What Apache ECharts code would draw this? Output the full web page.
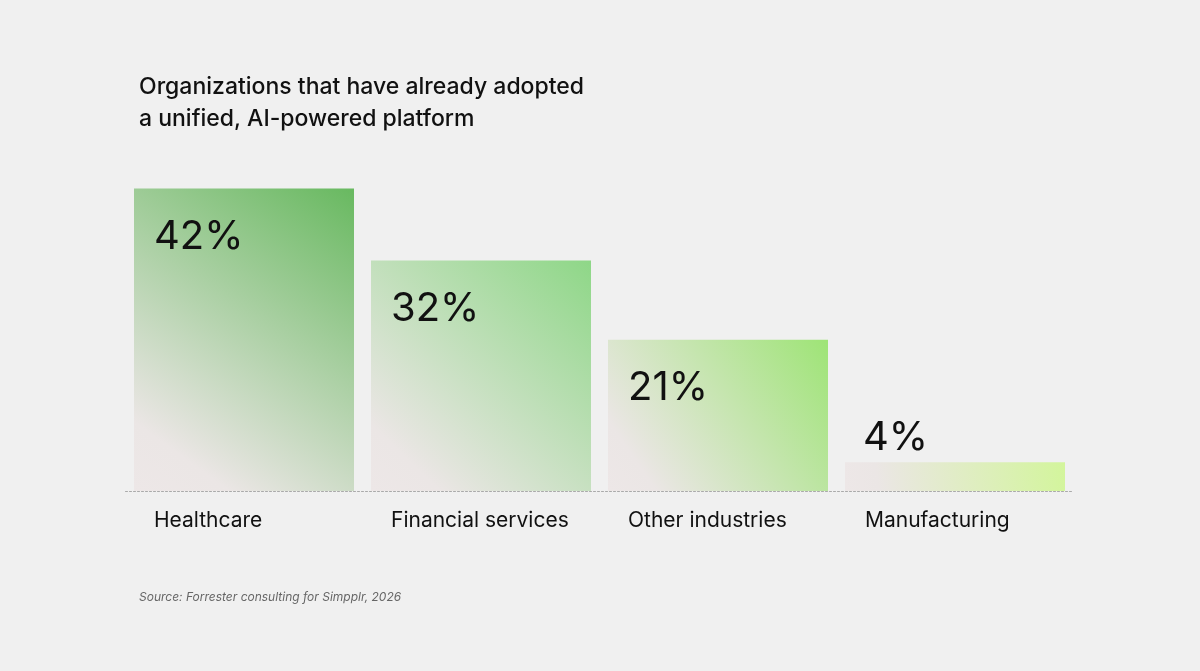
<!DOCTYPE html>
<html><head><meta charset="utf-8">
<script src="https://cdn.jsdelivr.net/npm/echarts@6/dist/echarts.min.js"></script>
<style>html,body{margin:0;padding:0;background:#f0f0f0}#c{width:1200px;height:671px}</style>
</head><body><div id="c"></div>
<script>
const categories = ['Healthcare','Financial services','Other industries','Manufacturing'];
const values = [42, 32, 21, 4];
const topColors = ['#68b960','#8ed787','#9ee476','#d3f59c'];
const chart = echarts.init(document.getElementById('c'));
const F = 'Inter, "Noto Sans", sans-serif';
chart.setOption({
  backgroundColor:'#f0f0f0',
  animation:false,
  title:[
    {text:'Organizations that have already adopted\na unified, AI-powered platform',left:134,top:66,
     textStyle:{fontFamily:F,fontSize:23,fontWeight:500,color:'#111',lineHeight:32}},
    {text:'Source: Forrester consulting for Simpplr, 2026',left:134,top:586,
     textStyle:{fontFamily:F,fontSize:12,fontStyle:'italic',fontWeight:'normal',color:'#666'}}
  ],
  grid:{left:125.5,width:948,top:131,height:360},
  xAxis:{type:'category',data:categories,axisTick:{show:false},axisLabel:{show:false},
    axisLine:{show:true,lineStyle:{color:'#aaa',type:[2,2],width:1}}},
  yAxis:{type:'value',min:0,max:50,show:false,splitLine:{show:false}},
  series:[
    {type:'bar',barWidth:220,data:values.map((v,i)=>({value:v,
      itemStyle:{color:new echarts.graphic.LinearGradient(1,0,0,1,[{offset:0,color:topColors[i]},{offset:0.85,color:'#ebe6e5'},{offset:1,color:'#ede7e7'}])},
      label:{position: i===3 ? [18,-44] : [20,28]}})),
      label:{show:true,formatter:'{c}%',fontFamily:F,fontSize:40,color:'#111',align:'left',verticalAlign:'top'}},
    {type:'bar',barWidth:220,barGap:'-100%',data:categories.map(()=>0),silent:true,
      itemStyle:{color:'transparent'},
      label:{show:true,position:[20,19],align:'left',verticalAlign:'top',fontFamily:F,fontSize:21,color:'#111',
        formatter:p=>categories[p.dataIndex]}}
  ]
});
</script></body></html>
